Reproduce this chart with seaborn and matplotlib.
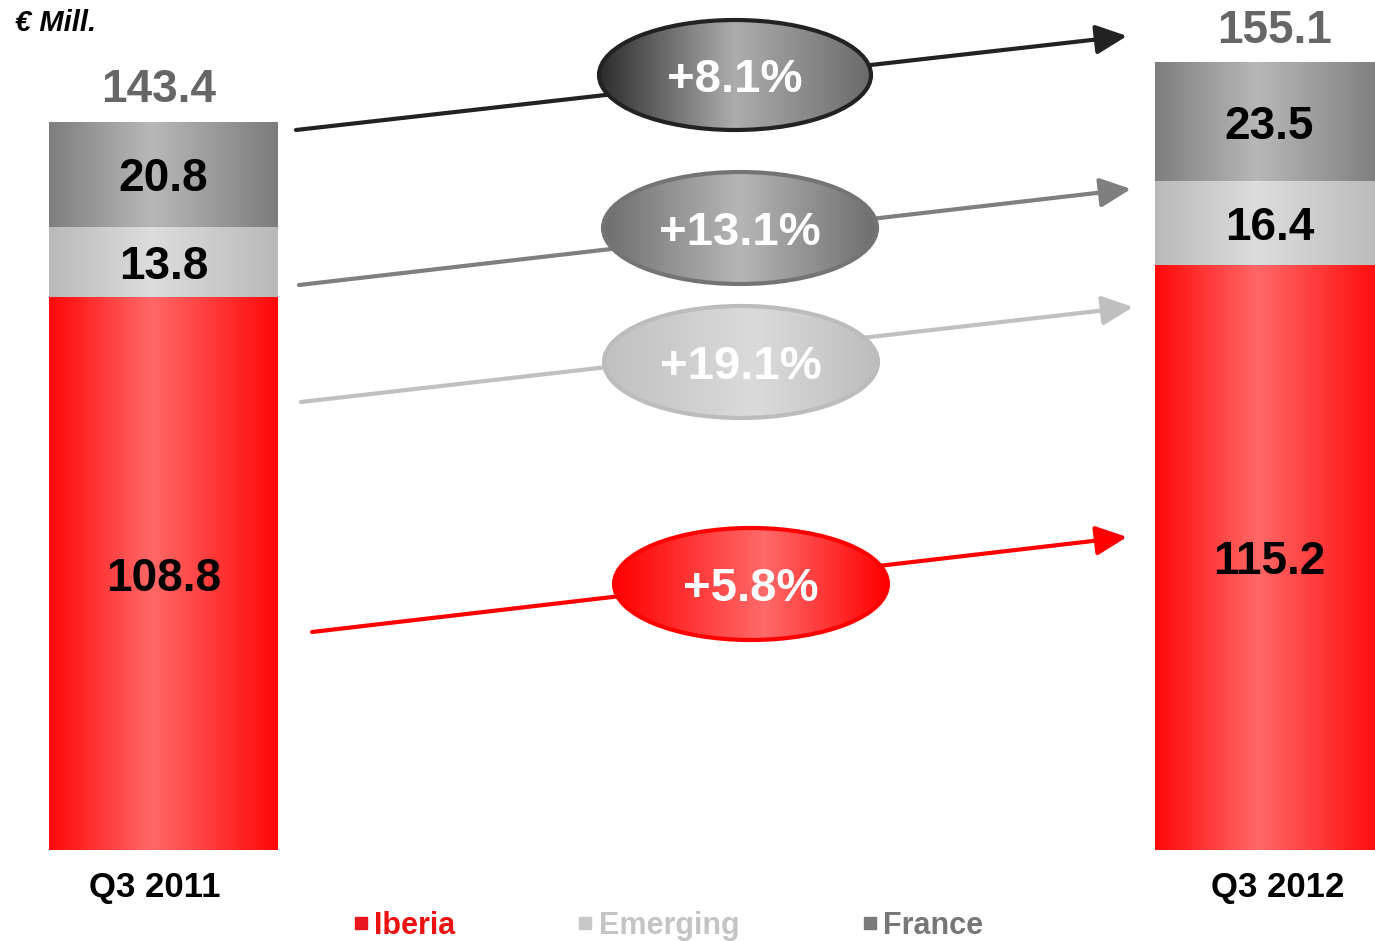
import numpy as np
import pandas as pd
import matplotlib
matplotlib.use("Agg")
import matplotlib.pyplot as plt
import seaborn as sns
from matplotlib.colors import LinearSegmentedColormap
from matplotlib.patches import Ellipse
from matplotlib.lines import Line2D

# ---- data (€ million) ----
quarters = ["Q3 2011", "Q3 2012"]
iberia = [108.8, 115.2]
emerging = [13.8, 16.4]
france = [20.8, 23.5]
totals = [143.4, 155.1]
series_names = ["Iberia", "Emerging", "France"]
# growth Q3 2012 vs Q3 2011: total, France, Emerging, Iberia
growth_labels = ["+8.1%", "+13.1%", "+19.1%", "+5.8%"]

sns.set_theme(style="white")
plt.rcParams["font.family"] = ["Liberation Sans", "DejaVu Sans"]

W, H = 1375, 941
fig = plt.figure(figsize=(W / 100, H / 100), dpi=100)
ax = fig.add_axes([0, 0, 1, 1])

# pixel layout: bar centres and value scale
X0, XS = 163.5, 1106.0   # centre of first bar, spacing between bars (px)
Y0, YS = 850.0, 5.08     # baseline (px from top), px per € million


def P(px, py):
    """Convert a pixel position (from top-left) to data coordinates."""
    return ((px - X0) / XS, (Y0 - py) / YS)


xlim = (P(0, 0)[0], P(W, 0)[0])
ylim = (P(0, H)[1], P(0, 0)[1])


def grad_cmap(stops):
    return LinearSegmentedColormap.from_list("g", stops)


ramp = np.linspace(0, 1, 256)[None, :]

# ---- stacked bars (drawn as layered cumulative bars) ----
df = pd.DataFrame({"quarter": quarters, "Iberia": iberia,
                   "Emerging": emerging, "France": france})
df["Emerging_top"] = df["Iberia"] + df["Emerging"]
df["France_top"] = df["Emerging_top"] + df["France"]

bar_grads = {
    "France": [(0, "#7e7e7e"), (0.45, "#b8b8b8"), (1, "#7c7c7c")],
    "Emerging": [(0, "#b9b9b9"), (0.45, "#dddddd"), (1, "#b9b9b9")],
    "Iberia": [(0, "#ff0808"), (0.45, "#ff6868"), (1, "#ff0808")],
}
layers = [("France", "France_top"), ("Emerging", "Emerging_top"), ("Iberia", "Iberia")]

for k, (name, col) in enumerate(layers):
    n_before = len(ax.patches)
    sns.barplot(data=df, x="quarter", y=col, order=quarters, width=0.207,
                color="white", saturation=1, ax=ax, zorder=1 + k)
    cmap = grad_cmap(bar_grads[name])
    for p in ax.patches[n_before:]:
        p.set_facecolor("none")
        p.set_edgecolor("none")
        x0, w, h = p.get_x(), p.get_width(), p.get_height()
        im = ax.imshow(ramp, cmap=cmap, extent=[x0, x0 + w, 0, h], aspect="auto",
                       interpolation="bicubic", zorder=1 + k)
        im.set_clip_path(p)

# segment values, totals and category labels
label_shift = [-6, 6]   # points
for i in range(len(quarters)):
    bottom = 0.0
    for vals in (iberia, emerging, france):
        ax.text(i, bottom + vals[i] / 2, f"{vals[i]:.1f}", ha="center",
                va="center_baseline", fontsize=33, fontweight="bold",
                color="black", zorder=10)
        bottom += vals[i]
    ax.annotate(f"{totals[i]:.1f}", (i, totals[i]), xytext=(label_shift[i] * 0.6, 14),
                textcoords="offset points", ha="center", va="baseline",
                fontsize=33, fontweight="bold", color="#666666", zorder=10)
    ax.annotate(quarters[i], (i, P(0, 888)[1]), xytext=(label_shift[i], 0),
                textcoords="offset points", ha="center", va="center",
                fontsize=25, fontweight="bold", color="black", zorder=10)

ax.text(*P(15, 23), "€ Mill.", ha="left", va="center", fontsize=21,
        fontweight="bold", fontstyle="italic", color="black")

# ---- growth arrows with labelled ellipses ----
links = [
    # start, end, ellipse centre, size, line colour, edge colour, fill stops
    ((296, 130), (1127, 36), (735, 75), (272, 110), "#222222", "#222222",
     [(0, "#2c2c2c"), (0.5, "#adadad"), (1, "#6a6a6a")]),
    ((299, 285), (1131, 189), (740, 228), (274, 112), "#7f7f7f", "#747474",
     [(0, "#6e6e6e"), (0.5, "#b6b6b6"), (1, "#6e6e6e")]),
    ((301, 402), (1133, 307), (741, 362), (274, 112), "#c0c0c0", "#bcbcbc",
     [(0, "#c0c0c0"), (0.55, "#dbdbdb"), (1, "#bdbdbd")]),
    ((312, 632), (1127, 537), (751, 584), (274, 112), "#ff0000", "#ff0000",
     [(0, "#ff0000"), (0.55, "#ff6a6a"), (1, "#ff0000")]),
]

for label, (s, e, c, (ew, eh), lc, ec, stops) in zip(growth_labels, links):
    ax.annotate("", xy=P(*e), xytext=P(*s),
                arrowprops=dict(arrowstyle="-|>,head_length=0.95,head_width=0.45",
                                color=lc, lw=3, mutation_scale=20,
                                shrinkA=0, shrinkB=0),
                zorder=3)
    cx, cy = P(*c)
    wd, hd = ew / XS, eh / YS
    ell = Ellipse((cx, cy), width=wd, height=hd, facecolor="none",
                  edgecolor=ec, lw=3, zorder=5)
    ax.add_patch(ell)
    im = ax.imshow(ramp, cmap=grad_cmap(stops),
                   extent=[cx - wd / 2, cx + wd / 2, cy - hd / 2, cy + hd / 2],
                   aspect="auto", interpolation="bicubic", zorder=4)
    im.set_clip_path(ell)
    ax.text(cx, cy, label, ha="center", va="center_baseline", fontsize=34,
            fontweight="bold", color="white", zorder=6)

# ---- legend ----
marker_cols = ["#e8141e", "#c8c8c8", "#7a7a7a"]
text_cols = ["#ee1111", "#c4c4c4", "#777777"]
handles = [Line2D([], [], marker="s", ls="", color=c, markersize=9)
           for c in marker_cols]
fig.legend(handles, series_names, ncol=3, loc="center",
           bbox_to_anchor=(667.5 / W, 1 - 926 / H), frameon=False,
           handlelength=0.6, handletextpad=0.15, columnspacing=3.95,
           prop=dict(weight="bold", size=22), labelcolor=text_cols)

ax.set_xlim(*xlim)
ax.set_ylim(*ylim)
ax.set_axis_off()

fig.savefig("out.png", dpi=100)
